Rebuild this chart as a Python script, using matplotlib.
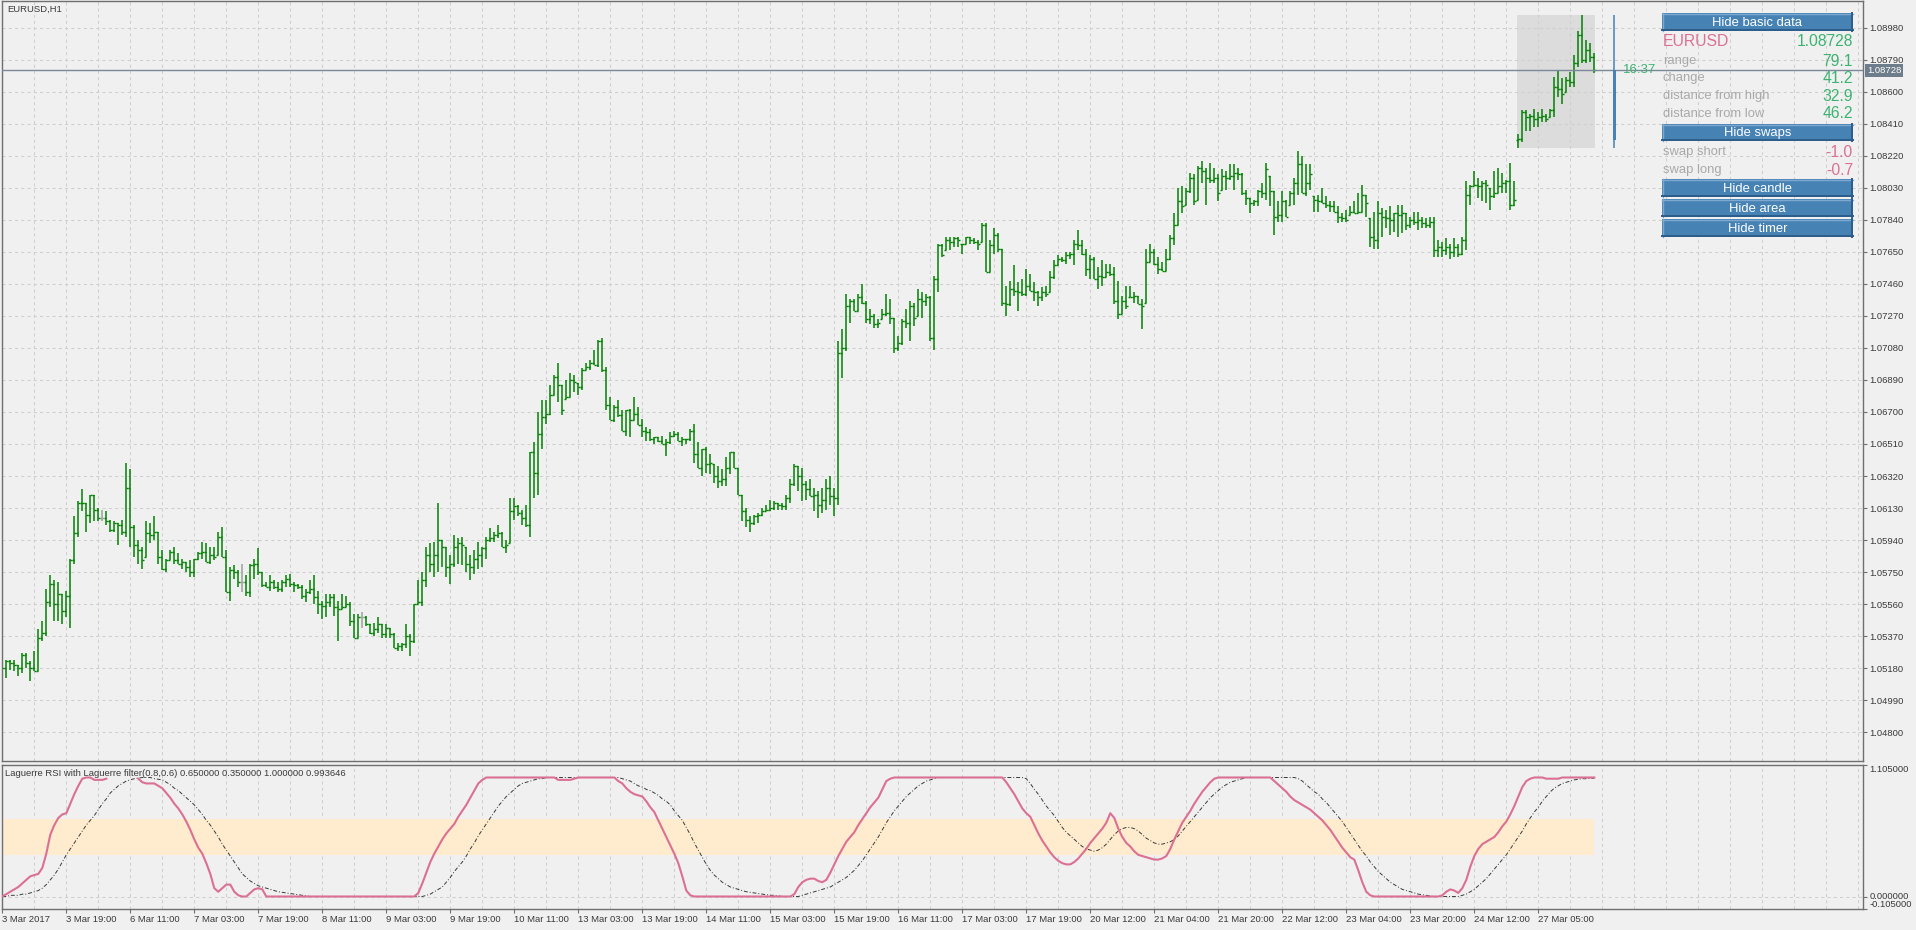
import numpy as np
import matplotlib
matplotlib.use('Agg')
import matplotlib.pyplot as plt
from matplotlib.patches import Rectangle

plt.rcParams['font.family'] = ['Liberation Sans', 'DejaVu Sans']

# ---- price data, EURUSD H1, one value per bar ----
highs = [
    1.0520, 1.0523, 1.0523, 1.0523, 1.0520, 1.0527, 1.0527, 1.0522, 1.0528, 1.0541,
    1.0546, 1.0565, 1.0573, 1.0570, 1.0569, 1.0562, 1.0564, 1.0583, 1.0608, 1.0617,
    1.0624, 1.0616, 1.0621, 1.0621, 1.0613, 1.0612, 1.0611, 1.0606, 1.0605, 1.0604,
    1.0606, 1.0640, 1.0636, 1.0603, 1.0594, 1.0590, 1.0605, 1.0604, 1.0608, 1.0599,
    1.0588, 1.0583, 1.0588, 1.0590, 1.0586, 1.0583, 1.0581, 1.0582, 1.0583, 1.0587,
    1.0593, 1.0592, 1.0590, 1.0590, 1.0599, 1.0602, 1.0588, 1.0578, 1.0579, 1.0576,
    1.0580, 1.0573, 1.0580, 1.0583, 1.0589, 1.0575, 1.0569, 1.0573, 1.0570, 1.0569,
    1.0570, 1.0573, 1.0574, 1.0569, 1.0568, 1.0567, 1.0565, 1.0570, 1.0573, 1.0564,
    1.0558, 1.0562, 1.0562, 1.0562, 1.0558, 1.0562, 1.0561, 1.0557, 1.0550, 1.0550,
    1.0551, 1.0549, 1.0544, 1.0545, 1.0548, 1.0544, 1.0544, 1.0542, 1.0539, 1.0533,
    1.0533, 1.0544, 1.0538, 1.0556, 1.0570,
    1.0575, 1.0590, 1.0592, 1.0593, 1.0616,
    1.0594, 1.0590, 1.0585, 1.0597, 1.0595, 1.0596, 1.0590, 1.0585, 1.0588, 1.0593,
    1.0590, 1.0596, 1.0601, 1.0599, 1.0603, 1.0599, 1.0594, 1.0619, 1.0619, 1.0615,
    1.0612, 1.0615, 1.0646, 1.0652, 1.0670, 1.0677, 1.0677, 1.0686, 1.0692, 1.0699,
    1.0686, 1.0689, 1.0693, 1.0692, 1.0687, 1.0696, 1.0699, 1.0701, 1.0707, 1.0713,
    1.0714, 1.0697, 1.0679, 1.0674, 1.0677, 1.0671, 1.0671, 1.0672, 1.0679, 1.0673,
    1.0666, 1.0661, 1.0660, 1.0655, 1.0655, 1.0656, 1.0654, 1.0658, 1.0659, 1.0658,
    1.0655, 1.0654, 1.0660, 1.0663, 1.0652, 1.0648, 1.0649, 1.0645, 1.0639, 1.0638,
    1.0636, 1.0643, 1.0646, 1.0646, 1.0637, 1.0621, 1.0613, 1.0608, 1.0609, 1.0610,
    1.0613, 1.0615, 1.0618, 1.0617, 1.0616, 1.0616, 1.0621, 1.0630, 1.0639, 1.0638,
    1.0637, 1.0629, 1.0630, 1.0625, 1.0623, 1.0625, 1.0630, 1.0632, 1.0625, 1.0712,
    1.0719, 1.0740, 1.0737, 1.0737, 1.0740, 1.0746, 1.0736, 1.0731, 1.0728, 1.0725,
    1.0731, 1.0740, 1.0737, 1.0726, 1.0715, 1.0725, 1.0731, 1.0736, 1.0735, 1.0743,
    1.0741, 1.0740, 1.0739, 1.0751, 1.0770, 1.0770, 1.0774, 1.0774, 1.0774, 1.0774,
    1.0770, 1.0774, 1.0774, 1.0773, 1.0772, 1.0782, 1.0782, 1.0772, 1.0779, 1.0776,
    1.0767, 1.0745, 1.0748, 1.0757, 1.0747, 1.0749, 1.0755, 1.0752, 1.0747, 1.0742,
    1.0744, 1.0745, 1.0754, 1.0760, 1.0763, 1.0762, 1.0765, 1.0765, 1.0772, 1.0778,
    1.0772, 1.0767, 1.0763, 1.0762, 1.0756, 1.0760, 1.0758, 1.0758, 1.0756, 1.0748,
    1.0739, 1.0745, 1.0745, 1.0741, 1.0739, 1.0737, 1.0767, 1.0770, 1.0767, 1.0762,
    1.0759, 1.0767, 1.0775, 1.0788, 1.0803, 1.0804, 1.0803, 1.0812, 1.0811, 1.0816,
    1.0819, 1.0815, 1.0818, 1.0815, 1.0811, 1.0814, 1.0813, 1.0817, 1.0817, 1.0815,
    1.0812, 1.0802, 1.0797, 1.0796, 1.0802, 1.0806, 1.0818, 1.0810, 1.0801, 1.0795,
    1.0801, 1.0796, 1.0801, 1.0809, 1.0825, 1.0822, 1.0817, 1.0817, 1.0798, 1.0799,
    1.0803, 1.0798, 1.0795, 1.0795, 1.0792, 1.0788, 1.0790, 1.0792, 1.0795, 1.0800,
    1.0805, 1.0799, 1.0785, 1.0789, 1.0795, 1.0791, 1.0790, 1.0792, 1.0788, 1.0793,
    1.0793, 1.0788, 1.0786, 1.0789, 1.0789, 1.0786, 1.0785, 1.0786, 1.0786, 1.0772,
    1.0771, 1.0773, 1.0770, 1.0773, 1.0770, 1.0774, 1.0807, 1.0805, 1.0813, 1.0809,
    1.0807, 1.0808, 1.0803, 1.0813, 1.0815, 1.0812, 1.0808, 1.0818, 1.0807, 1.0835,
    1.0849, 1.0849, 1.0847, 1.0850, 1.0848, 1.0850, 1.0847, 1.0850, 1.0869, 1.0873,
    1.0868, 1.0869, 1.0872, 1.0882, 1.0896, 1.09057, 1.0891, 1.0889, 1.0883,
]
lows = [
    1.0517, 1.0512, 1.0517, 1.0516, 1.0513, 1.0515, 1.0518, 1.0510, 1.0516, 1.0516,
    1.0534, 1.0537, 1.0554, 1.0546, 1.0546, 1.0544, 1.0548, 1.0542, 1.0580, 1.0596,
    1.0611, 1.0599, 1.0604, 1.0605, 1.0605, 1.0605, 1.0603, 1.0599, 1.0599, 1.0591,
    1.0597, 1.0596, 1.0590, 1.0584, 1.0580, 1.0577, 1.0584, 1.0592, 1.0594, 1.0580,
    1.0576, 1.0575, 1.0582, 1.0580, 1.0580, 1.0577, 1.0575, 1.0572, 1.0572, 1.0582,
    1.0583, 1.0581, 1.0580, 1.0582, 1.0585, 1.0584, 1.0563, 1.0558, 1.0571, 1.0566,
    1.0563, 1.0561, 1.0560, 1.0571, 1.0573, 1.0566, 1.0566, 1.0564, 1.0565, 1.0563,
    1.0563, 1.0566, 1.0566, 1.0563, 1.0565, 1.0559, 1.0557, 1.0562, 1.0556, 1.0550,
    1.0547, 1.0548, 1.0554, 1.0549, 1.0534, 1.0553, 1.0554, 1.0543, 1.0536, 1.0536,
    1.0542, 1.0543, 1.0538, 1.0537, 1.0539, 1.0536, 1.0536, 1.0536, 1.0530, 1.0528,
    1.0528, 1.0530, 1.0525, 1.0533, 1.0556,
    1.0555, 1.0566, 1.0575, 1.0572, 1.0575,
    1.0578, 1.0572, 1.0568, 1.0578, 1.0580, 1.0579, 1.0575, 1.0570, 1.0574, 1.0577,
    1.0578, 1.0583, 1.0593, 1.0593, 1.0595, 1.0590, 1.0586, 1.0592, 1.0606, 1.0608,
    1.0603, 1.0602, 1.0596, 1.0619, 1.0621, 1.0648, 1.0663, 1.0668, 1.0680, 1.0676,
    1.0668, 1.0678, 1.0679, 1.0682, 1.0680, 1.0683, 1.0695, 1.0695, 1.0698, 1.0697,
    1.0694, 1.0671, 1.0665, 1.0664, 1.0667, 1.0659, 1.0656, 1.0655, 1.0665, 1.0662,
    1.0655, 1.0653, 1.0653, 1.0651, 1.0652, 1.0651, 1.0644, 1.0651, 1.0655, 1.0653,
    1.0650, 1.0651, 1.0653, 1.0640, 1.0637, 1.0632, 1.0634, 1.0633, 1.0628, 1.0625,
    1.0626, 1.0626, 1.0633, 1.0637, 1.0621, 1.0605, 1.0602, 1.0599, 1.0603, 1.0604,
    1.0608, 1.0611, 1.0611, 1.0612, 1.0612, 1.0612, 1.0612, 1.0616, 1.0626, 1.0623,
    1.0617, 1.0618, 1.0620, 1.0611, 1.0607, 1.0610, 1.0612, 1.0615, 1.0608, 1.0615,
    1.0690, 1.0706, 1.0723, 1.0730, 1.0730, 1.0734, 1.0723, 1.0722, 1.0720, 1.0720,
    1.0725, 1.0727, 1.0722, 1.0705, 1.0706, 1.0710, 1.0720, 1.0712, 1.0721, 1.0727,
    1.0726, 1.0733, 1.0712, 1.0707, 1.0741, 1.0762, 1.0766, 1.0766, 1.0768, 1.0768,
    1.0764, 1.0770, 1.0770, 1.0770, 1.0766, 1.0771, 1.0753, 1.0753, 1.0764, 1.0765,
    1.0733, 1.0727, 1.0733, 1.0739, 1.0730, 1.0739, 1.0739, 1.0742, 1.0736, 1.0733,
    1.0736, 1.0738, 1.0741, 1.0749, 1.0757, 1.0759, 1.0758, 1.0761, 1.0757, 1.0766,
    1.0763, 1.0751, 1.0749, 1.0749, 1.0743, 1.0745, 1.0750, 1.0751, 1.0734, 1.0725,
    1.0728, 1.0731, 1.0738, 1.0735, 1.0734, 1.0719, 1.0735, 1.0759, 1.0757, 1.0752,
    1.0754, 1.0754, 1.0760, 1.0769, 1.0781, 1.0788, 1.0793, 1.0800, 1.0793, 1.0796,
    1.0806, 1.0793, 1.0806, 1.0806, 1.0795, 1.0802, 1.0802, 1.0808, 1.0802, 1.0808,
    1.0799, 1.0793, 1.0788, 1.0792, 1.0792, 1.0797, 1.0796, 1.0792, 1.0775, 1.0783,
    1.0783, 1.0786, 1.0793, 1.0793, 1.0799, 1.0800, 1.0798, 1.0802, 1.0789, 1.0789,
    1.0794, 1.0791, 1.0789, 1.0789, 1.0782, 1.0783, 1.0783, 1.0787, 1.0788, 1.0788,
    1.0789, 1.0786, 1.0768, 1.0767, 1.0767, 1.0774, 1.0779, 1.0775, 1.0777, 1.0774,
    1.0776, 1.0778, 1.0779, 1.0781, 1.0778, 1.0779, 1.0779, 1.0779, 1.0762, 1.0762,
    1.0762, 1.0763, 1.0761, 1.0762, 1.0762, 1.0763, 1.0766, 1.0793, 1.0804, 1.0797,
    1.0795, 1.0794, 1.0790, 1.0797, 1.0800, 1.0800, 1.0800, 1.0790, 1.0792, 1.08266,
    1.0830, 1.0837, 1.0837, 1.0839, 1.0839, 1.0842, 1.0842, 1.0845, 1.0845, 1.0857,
    1.0853, 1.0860, 1.0863, 1.0863, 1.0875, 1.0877, 1.0877, 1.0878, 1.0871,
]
closes = [
    1.0518, 1.0522, 1.0521, 1.0520, 1.0518, 1.0526, 1.0521, 1.0518, 1.0516, 1.0536,
    1.0539, 1.0557, 1.0568, 1.0556, 1.0562, 1.0552, 1.0561, 1.0582, 1.0598, 1.0616,
    1.0616, 1.0609, 1.0621, 1.0612, 1.0607, 1.0607, 1.0605, 1.0600, 1.0604, 1.0603,
    1.0599, 1.0625, 1.0602, 1.0591, 1.0588, 1.0582, 1.0598, 1.0597, 1.0599, 1.0584,
    1.0577, 1.0582, 1.0587, 1.0582, 1.0580, 1.0581, 1.0578, 1.0575, 1.0583, 1.0586,
    1.0587, 1.0581, 1.0585, 1.0584, 1.0596, 1.0584, 1.0563, 1.0576, 1.0575, 1.0569,
    1.0569, 1.0563, 1.0579, 1.0580, 1.0575, 1.0567, 1.0566, 1.0569, 1.0566, 1.0565,
    1.0569, 1.0571, 1.0568, 1.0567, 1.0566, 1.0561, 1.0563, 1.0565, 1.0560, 1.0556,
    1.0555, 1.0557, 1.0560, 1.0554, 1.0553, 1.0554, 1.0556, 1.0546, 1.0536, 1.0548,
    1.0548, 1.0544, 1.0539, 1.0541, 1.0544, 1.0538, 1.0542, 1.0538, 1.0530, 1.0531,
    1.0532, 1.0537, 1.0534, 1.0556, 1.0557,
    1.0570, 1.0585, 1.0580, 1.0585, 1.0594,
    1.0590, 1.0578, 1.0580, 1.0590, 1.0592, 1.0591, 1.0580, 1.0578, 1.0583, 1.0585,
    1.0589, 1.0594, 1.0595, 1.0597, 1.0598, 1.0590, 1.0591, 1.0611, 1.0614, 1.0610,
    1.0607, 1.0603, 1.0646, 1.0634, 1.0657, 1.0667, 1.0669, 1.0680, 1.0691, 1.0686,
    1.0671, 1.0679, 1.0689, 1.0688, 1.0685, 1.0695, 1.0697, 1.0699, 1.0698, 1.0712,
    1.0695, 1.0674, 1.0665, 1.0673, 1.0668, 1.0659, 1.0671, 1.0665, 1.0669, 1.0662,
    1.0659, 1.0658, 1.0654, 1.0655, 1.0653, 1.0651, 1.0652, 1.0656, 1.0657, 1.0653,
    1.0654, 1.0654, 1.0659, 1.0645, 1.0637, 1.0648, 1.0639, 1.0640, 1.0632, 1.0629,
    1.0630, 1.0637, 1.0646, 1.0637, 1.0621, 1.0611, 1.0606, 1.0604, 1.0608, 1.0609,
    1.0611, 1.0612, 1.0613, 1.0616, 1.0615, 1.0614, 1.0619, 1.0627, 1.0638, 1.0632,
    1.0627, 1.0624, 1.0620, 1.0621, 1.0615, 1.0618, 1.0625, 1.0620, 1.0619, 1.0705,
    1.0708, 1.0733, 1.0736, 1.0730, 1.0738, 1.0735, 1.0725, 1.0727, 1.0722, 1.0723,
    1.0728, 1.0729, 1.0726, 1.0708, 1.0711, 1.0724, 1.0723, 1.0733, 1.0726, 1.0737,
    1.0736, 1.0738, 1.0714, 1.0749, 1.0769, 1.0763, 1.0772, 1.0771, 1.0773, 1.0772,
    1.0770, 1.0774, 1.0772, 1.0771, 1.0770, 1.0781, 1.0753, 1.0769, 1.0775, 1.0767,
    1.0735, 1.0734, 1.0743, 1.0742, 1.0741, 1.0740, 1.0745, 1.0742, 1.0741, 1.0738,
    1.0741, 1.0740, 1.0750, 1.0757, 1.0761, 1.0760, 1.0763, 1.0764, 1.0770, 1.0769,
    1.0764, 1.0755, 1.0761, 1.0749, 1.0751, 1.0750, 1.0753, 1.0752, 1.0736, 1.0728,
    1.0736, 1.0733, 1.0738, 1.0739, 1.0734, 1.0733, 1.0759, 1.0765, 1.0758, 1.0755,
    1.0754, 1.0761, 1.0773, 1.0781, 1.0795, 1.0792, 1.0801, 1.0809, 1.0795, 1.0815,
    1.0813, 1.0809, 1.0808, 1.0809, 1.0800, 1.0810, 1.0809, 1.0810, 1.0812, 1.0811,
    1.0800, 1.0797, 1.0794, 1.0795, 1.0801, 1.0800, 1.0814, 1.0801, 1.0786, 1.0787,
    1.0795, 1.0786, 1.0800, 1.0806, 1.0817, 1.0800, 1.0806, 1.0811, 1.0796, 1.0795,
    1.0794, 1.0793, 1.0792, 1.0789, 1.0786, 1.0785, 1.0784, 1.0789, 1.0788, 1.0789,
    1.0799, 1.0794, 1.0774, 1.0772, 1.0788, 1.0786, 1.0785, 1.0784, 1.0788, 1.0787,
    1.0788, 1.0781, 1.0784, 1.0783, 1.0784, 1.0782, 1.0781, 1.0783, 1.0766, 1.0768,
    1.0766, 1.0768, 1.0765, 1.0768, 1.0764, 1.0772, 1.0799, 1.0804, 1.0805, 1.0804,
    1.0806, 1.0805, 1.0798, 1.0800, 1.0804, 1.0806, 1.0807, 1.0793, 1.0796, 1.0832,
    1.0848, 1.0845, 1.0846, 1.0844, 1.0845, 1.0846, 1.0844, 1.0849, 1.0863, 1.0862,
    1.0859, 1.0867, 1.0866, 1.0877, 1.0894, 1.0879, 1.0885, 1.0881, 1.08728,
]
doji_bars = [25, 60, 90]

# today's figures (info panel / daily candle / area)
symbol = 'EURUSD'
timeframe = 'H1'
today_first_bar = 379
day_open = 1.08316
day_high = 1.09057
day_low = 1.08266
last_price = 1.08728
swap_short = -1.0
swap_long = -0.7
timer_text = '16:37'

# ---- Laguerre RSI (pink) and its Laguerre filter (dash-dot) ----
nan = float('nan')
rsi = (
    [0.00, 0.02, 0.04, 0.06, 0.08, 0.11, 0.14, 0.17, 0.18, 0.19,
     0.24, 0.36, 0.52, 0.60, 0.66, 0.69, 0.70, 0.78, 0.86, 0.93]
    + [0.99, 1.00, 1.00, 0.98, 0.98, 0.98, 0.99]
    + [nan] * 7
    + [0.99, 0.96, 0.95, 0.95, 0.95, 0.93]
    + [0.91, 0.87, 0.83, 0.78, 0.74, 0.69, 0.63, 0.56, 0.48, 0.41]
    + [0.36, 0.28, 0.19, 0.07, 0.04, 0.07, 0.10, 0.10, 0.04, 0.01]
    + [0.00, 0.00, 0.03, 0.06, 0.07, 0.06, 0.00]
    + [0.0] * 37
    + [0.03, 0.11, 0.20, 0.29, 0.36, 0.42]
    + [0.48, 0.53, 0.57, 0.61, 0.67, 0.72, 0.77, 0.83, 0.89, 0.95]
    + [0.98] + [1.0] * 18
    + [0.98, 0.98, 0.98, 0.98, 0.99] + [1.0] * 10
    + [0.97, 0.95, 0.91, 0.88, 0.86, 0.85, 0.84, 0.80, 0.75, 0.71]
    + [0.64, 0.57, 0.50, 0.43, 0.36, 0.28, 0.17, 0.05, 0.01, 0.00]
    + [0.0] * 24
    + [0.02, 0.08, 0.12, 0.14, 0.15, 0.15, 0.13, 0.12, 0.14, 0.20, 0.27, 0.34]
    + [0.40, 0.46, 0.50, 0.54, 0.60, 0.65, 0.70, 0.75, 0.79, 0.83, 0.90, 0.97, 0.99]
    + [1.0] * 28
    + [0.96, 0.91, 0.86, 0.80, 0.74, 0.70, 0.67, 0.60, 0.53, 0.47]
    + [0.42, 0.37, 0.33, 0.30, 0.28, 0.27, 0.27, 0.29, 0.32, 0.36]
    + [0.40, 0.45, 0.49, 0.53, 0.57, 0.62, 0.70, 0.66, 0.57, 0.50]
    + [0.45, 0.42, 0.38, 0.35, 0.34, 0.33, 0.32, 0.31, 0.31, 0.32]
    + [0.34, 0.40, 0.48, 0.55, 0.62, 0.67, 0.72, 0.78, 0.83, 0.88, 0.92, 0.96, 0.99]
    + [1.0] * 14
    + [0.97, 0.94, 0.91, 0.88, 0.84, 0.81, 0.79, 0.77, 0.75, 0.73]
    + [0.70, 0.67, 0.64, 0.60, 0.56, 0.51, 0.46, 0.41, 0.37, 0.33]
    + [0.31, 0.22, 0.12, 0.04, 0.01, 0.00]
    + [0.0] * 16
    + [0.01, 0.04, 0.06, 0.05, 0.03, 0.07, 0.14, 0.25, 0.34, 0.40]
    + [0.44, 0.46, 0.48, 0.50, 0.54, 0.59, 0.63, 0.69, 0.76, 0.84, 0.92, 0.97, 0.99]
    + [1.0, 1.0, 1.0, 0.99, 0.99, 0.99, 0.99, 1.0, 1.0, 1.0, 1.0, 1.0, 1.0, 1.0, 1.0, 1.0]
)
rsi_filter = (
    [0.00, 0.00, 0.01, 0.01, 0.01, 0.02, 0.02, 0.03, 0.04, 0.05,
     0.07, 0.10, 0.14, 0.18, 0.23, 0.29, 0.35, 0.40, 0.45, 0.50,
     0.55, 0.60, 0.64, 0.68, 0.73, 0.78, 0.82, 0.87, 0.90, 0.93,
     0.95, 0.97, 0.98, 0.99, 0.995, 1.00, 1.00, 1.00, 0.99, 0.985,
     0.98, 0.96, 0.94, 0.91, 0.89, 0.86, 0.83, 0.80, 0.77, 0.73,
     0.69, 0.64, 0.60, 0.55, 0.50, 0.44, 0.39, 0.34, 0.29, 0.24,
     0.19, 0.16, 0.13, 0.11, 0.09, 0.08, 0.07, 0.06, 0.05, 0.04,
     0.035, 0.03, 0.025, 0.02, 0.015, 0.01, 0.005, 0.0]
    + [0.0] * 28
    + [0.01, 0.02, 0.04, 0.06, 0.08, 0.12, 0.16, 0.21, 0.25, 0.29,
       0.34, 0.40, 0.45, 0.51, 0.56, 0.61, 0.66, 0.71, 0.76, 0.80,
       0.84, 0.87, 0.90, 0.93, 0.95, 0.96, 0.97, 0.98, 0.99, 0.99]
    + [1.0] * 19
    + [0.99, 0.98, 0.97, 0.95, 0.93, 0.92, 0.90, 0.89, 0.87, 0.85,
       0.82, 0.80, 0.77, 0.72, 0.68, 0.64, 0.58, 0.52, 0.45, 0.39,
       0.33, 0.27, 0.22, 0.18, 0.15, 0.12, 0.10, 0.08, 0.07, 0.06,
       0.05, 0.04, 0.035, 0.03, 0.025, 0.02, 0.015, 0.01, 0.01, 0.005]
    + [0.0] * 5
    + [0.01, 0.02, 0.03, 0.04, 0.05, 0.06, 0.07, 0.08, 0.10, 0.12,
       0.14, 0.16, 0.19, 0.22, 0.26, 0.30, 0.35, 0.40, 0.45, 0.50,
       0.56, 0.62, 0.67, 0.72, 0.76, 0.80, 0.84, 0.87, 0.90, 0.93,
       0.95, 0.97, 0.98, 0.99]
    + [1.0] * 22
    + [0.99, 0.95, 0.90, 0.86, 0.81, 0.76, 0.72, 0.68, 0.63, 0.58,
       0.54, 0.51, 0.48, 0.45, 0.42, 0.40, 0.39, 0.38, 0.39, 0.41,
       0.44, 0.48, 0.52, 0.55, 0.57, 0.58, 0.58, 0.57, 0.55, 0.52,
       0.49, 0.47, 0.45, 0.44, 0.44, 0.45, 0.46, 0.48, 0.51, 0.55,
       0.59, 0.63, 0.67, 0.71, 0.75, 0.79, 0.83, 0.86, 0.89, 0.92,
       0.94, 0.96, 0.97, 0.98, 0.99]
    + [1.0] * 13
    + [0.99, 0.97, 0.94, 0.91, 0.88, 0.86, 0.82, 0.79, 0.75, 0.71,
       0.67, 0.63, 0.58, 0.53, 0.48, 0.43, 0.38, 0.34, 0.29, 0.25,
       0.21, 0.18, 0.15, 0.12, 0.10, 0.08, 0.06, 0.05, 0.04, 0.03,
       0.02, 0.015, 0.01, 0.005]
    + [0.0] * 7
    + [0.01, 0.02, 0.04, 0.06, 0.09, 0.12, 0.15, 0.19, 0.23, 0.27,
       0.31, 0.35, 0.40, 0.45, 0.50, 0.55, 0.61, 0.66, 0.71, 0.75,
       0.80, 0.84, 0.88, 0.91, 0.93, 0.95, 0.96, 0.97, 0.98, 0.985,
       0.99, 0.99, 0.993, 0.993646]
)
rsi_levels = (0.35, 0.65)

time_labels = ['3 Mar 2017', '3 Mar 19:00', '6 Mar 11:00', '7 Mar 03:00', '7 Mar 19:00',
               '8 Mar 11:00', '9 Mar 03:00', '9 Mar 19:00', '10 Mar 11:00', '13 Mar 03:00',
               '13 Mar 19:00', '14 Mar 11:00', '15 Mar 03:00', '15 Mar 19:00', '16 Mar 11:00',
               '17 Mar 03:00', '17 Mar 19:00', '20 Mar 12:00', '21 Mar 04:00', '21 Mar 20:00',
               '22 Mar 12:00', '23 Mar 04:00', '23 Mar 20:00', '24 Mar 12:00', '27 Mar 05:00']
price_ticks = [1.04800, 1.04990, 1.05180, 1.05370, 1.05560, 1.05750, 1.05940, 1.06130,
               1.06320, 1.06510, 1.06700, 1.06890, 1.07080, 1.07270, 1.07460, 1.07650,
               1.07840, 1.08030, 1.08220, 1.08410, 1.08600, 1.08790, 1.08980]

n = len(closes)
assert len(highs) == n and len(lows) == n and len(rsi) == n and len(rsi_filter) == n

idx = np.arange(n)
hi = np.array(highs)
lo = np.array(lows)
cl = np.array(closes)
op = np.clip(np.r_[cl[0], cl[:-1]], lo, hi)
op[today_first_bar] = day_open

BG = '#F0F0F0'
GRID = '#CFCFCF'
AXC = '#6F6F6F'
TXT = '#3A3A3A'
W, H = 1916, 930


def box(x0, y0, x1, y1):
    return [x0 / W, 1 - y1 / H, (x1 - x0) / W, (y1 - y0) / H]


fig = plt.figure(figsize=(W / 100, H / 100), dpi=100, facecolor=BG)
ax = fig.add_axes(box(2, 1, 1863, 761), facecolor=BG)
ax2 = fig.add_axes(box(2, 765, 1863, 909), facecolor=BG)

xmax = (1863 - 2.3) / 4
for a in (ax, ax2):
    a.set_xlim(-0.075, xmax)
    for s in a.spines.values():
        s.set_color(AXC)
        s.set_linewidth(1.0)
    for g in range(8, int(xmax) + 1, 8):
        a.axvline(g, color=GRID, lw=0.75, ls=(0, (3, 3)), zorder=0.2)

# ---- main pane ----
ax.set_ylim(1.04628, 1.09140)
for p in price_ticks:
    ax.axhline(p, color=GRID, lw=0.75, ls=(0, (3, 3)), zorder=0.2)

ax.add_patch(Rectangle((today_first_bar - 0.3, day_low), n - 1 - today_first_bar + 0.45,
                       day_high - day_low, fc='#DCDCDC', ec='none', zorder=0.1))

cols = ['#A0A0A0' if i in doji_bars else '#008000' for i in idx]
ax.vlines(idx, lo, hi, colors=cols, lw=1.1, zorder=2)
ax.hlines(op, idx - 0.5, idx, colors=cols, lw=1.0, zorder=2)
ax.hlines(cl, idx, idx + 0.5, colors=cols, lw=1.0, zorder=2)

ax.axhline(last_price, color='#7A8899', lw=1.0, zorder=3)

# daily candle + timer
cx = n - 1 + 5
ax.vlines(cx, day_low, day_high, color='#4682B4', lw=1.1, zorder=3)
ax.add_patch(Rectangle((cx - 0.4, day_open), 0.8, last_price - day_open,
                       fc='#4682B4', ec='none', zorder=3))
ax.annotate(timer_text, (cx, last_price), xytext=(6.5, 0.5), textcoords='offset points',
            ha='left', va='center', fontsize=9.5, color='#3CB371', zorder=4)

ax.yaxis.tick_right()
ax.set_yticks(price_ticks, [f'{p:.5f}' for p in price_ticks])
ax.tick_params(axis='y', direction='out', length=3, width=0.8, color=AXC, pad=1.5,
               labelsize=6.8, labelcolor=TXT)
ax.tick_params(axis='x', length=0, labelbottom=False)
ax.set_xticks([])
ax.annotate(f'{last_price:.5f}', xy=(1, last_price), xycoords=('axes fraction', 'data'),
            xytext=(3, 0), textcoords='offset points', ha='left', va='center',
            fontsize=6.8, color='white',
            bbox=dict(boxstyle='square,pad=0.18', fc='#6E7D8C', ec='none'))
ax.text(5 / 1861, 1 - 8 / 760, f'{symbol},{timeframe}', transform=ax.transAxes,
        ha='left', va='center', fontsize=6.8, color=TXT)

# ---- Laguerre RSI sub window ----
ax2.set_ylim(-0.105, 1.105)
ax2.axhline(0, color=GRID, lw=0.75, ls=(0, (3, 3)), zorder=0.2)
ax2.fill_between(idx, rsi_levels[0], rsi_levels[1], color='#FFEBCD', lw=0, zorder=0.5)
ax2.plot(idx, rsi_filter, color='#3A3A3A', lw=0.7, ls=(0, (4, 2, 1, 2)), zorder=2)
ax2.plot(idx, rsi, color='#DB7093', lw=1.5, zorder=3)
ax2.text(3 / 1861, 0.94, 'Laguerre RSI with Laguerre filter(0.8,0.6) '
         f'{rsi_levels[1]:.6f} {rsi_levels[0]:.6f} {rsi[-1]:.6f} {rsi_filter[-1]:.6f}',
         transform=ax2.transAxes, ha='left', va='center', fontsize=6.8, color=TXT, zorder=4)

ax2.yaxis.tick_right()
ax2.set_yticks([-0.105, 0.0, 1.105], ['-0.105000', '0.000000', '1.105000'])
for lab, va in zip(ax2.get_yticklabels(), ['bottom', 'center', 'top']):
    lab.set_va(va)
ax2.tick_params(axis='y', direction='out', length=3, width=0.8, color=AXC, pad=1.5,
                labelsize=6.8, labelcolor=TXT)
ax2.set_xticks(np.arange(0, 16 * len(time_labels), 16), time_labels)
for lab in ax2.get_xticklabels():
    lab.set_ha('left')
ax2.tick_params(axis='x', direction='out', length=3, width=0.8, color=AXC, pad=1.5,
                labelsize=6.8, labelcolor=TXT)

# ---- info panel (figure pixel coordinates) ----
ov = fig.add_axes([0, 0, 1, 1])
ov.set_xlim(0, W)
ov.set_ylim(H, 0)
ov.axis('off')
ov.set_zorder(10)

px0, px1 = 1662, 1853
buttons = [('Hide basic data', 13, 31), ('Hide swaps', 124, 141), ('Hide candle', 179, 197),
           ('Hide area', 199, 217), ('Hide timer', 219, 237)]
for label, y0, y1 in buttons:
    ov.add_patch(Rectangle((px0, y0), px1 - px0, y1 - y0, fc='#4682B4', ec='none'))
    ov.plot([px0, px1], [y0 + 0.6, y0 + 0.6], color='#7FA8D0', lw=1.0)
    ov.plot([px0 + 0.6, px0 + 0.6], [y0, y1], color='#7FA8D0', lw=1.0)
    ov.plot([px0, px1], [y1 - 0.8, y1 - 0.8], color='#2C5C8A', lw=1.4)
    ov.plot([px1 - 0.8, px1 - 0.8], [y0, y1], color='#2C5C8A', lw=1.4)
    ov.text((px0 + px1) / 2, (y0 + y1) / 2 + 0.5, label, ha='center', va='center',
            fontsize=9.4, color='white')

LBL = '#A9A9A9'
GREEN = '#3CB371'
PINK = '#DB7093'
pip = 10000
rows = [
    (symbol, f'{last_price:.5f}', 42, PINK, GREEN, 11.3),
    ('range', f'{(day_high - day_low) * pip:.1f}', 61, LBL, GREEN, 9.4),
    ('change', f'{(last_price - day_open) * pip:.1f}', 78.5, LBL, GREEN, 9.4),
    ('distance from high', f'{(day_high - last_price) * pip:.1f}', 96.5, LBL, GREEN, 9.4),
    ('distance from low', f'{(last_price - day_low) * pip:.1f}', 114, LBL, GREEN, 9.4),
    ('swap short', f'{swap_short:.1f}', 152.5, LBL, PINK, 9.4),
    ('swap long', f'{swap_long:.1f}', 170.5, LBL, PINK, 9.4),
]
for name, val, y, c1, c2, fs in rows:
    ov.text(px0 + 1, y, name, ha='left', va='center', fontsize=fs, color=c1)
    ov.text(px1, y, val, ha='right', va='center', fontsize=11.3, color=c2)

fig.savefig('out.png', dpi=100, facecolor=BG)
